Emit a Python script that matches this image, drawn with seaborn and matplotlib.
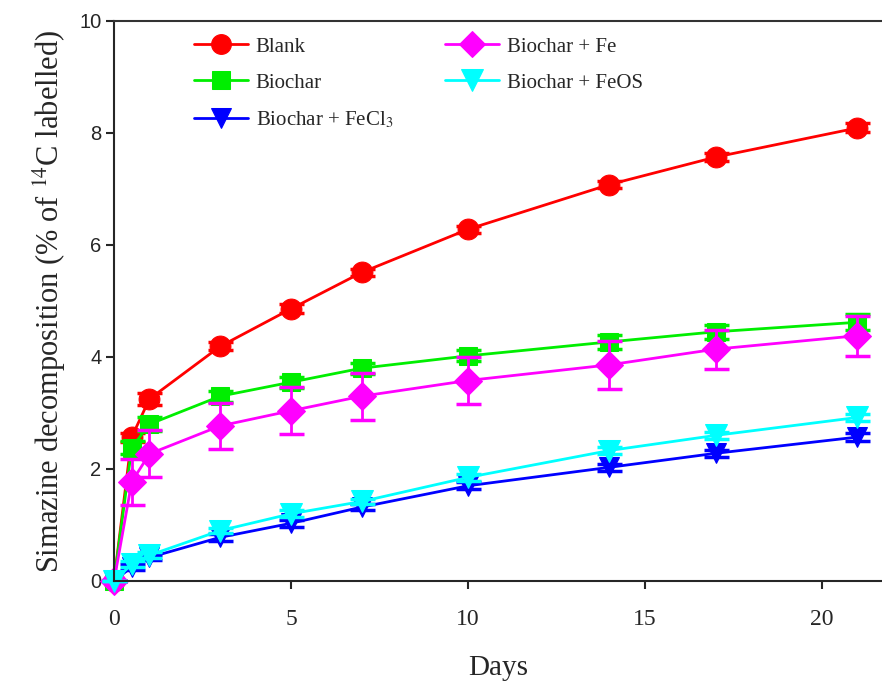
import numpy as np
import pandas as pd
import matplotlib
matplotlib.use("Agg")
import matplotlib.pyplot as plt
import seaborn as sns

days = [0, 0.5, 1, 3, 5, 7, 10, 14, 17, 21]

blank = [0, 2.57, 3.25, 4.19, 4.86, 5.51, 6.28, 7.08, 7.57, 8.09]
blank_sd = [0, 0.08, 0.1, 0.07, 0.08, 0.06, 0.06, 0.06, 0.07, 0.08]

biochar = [0, 2.38, 2.8, 3.3, 3.55, 3.8, 4.02, 4.27, 4.45, 4.62]
biochar_sd = [0, 0.12, 0.12, 0.1, 0.1, 0.1, 0.1, 0.12, 0.12, 0.14]

fecl3 = [0, 0.25, 0.42, 0.78, 1.03, 1.32, 1.7, 2.03, 2.28, 2.57]
fecl3_sd = [0, 0.05, 0.05, 0.06, 0.06, 0.05, 0.06, 0.06, 0.06, 0.07]

fe = [0, 1.77, 2.27, 2.77, 3.04, 3.3, 3.58, 3.86, 4.14, 4.38]
fe_sd = [0, 0.41, 0.42, 0.41, 0.42, 0.42, 0.42, 0.43, 0.35, 0.36]

feos = [0, 0.3, 0.46, 0.9, 1.2, 1.42, 1.85, 2.33, 2.6, 2.92]
feos_sd = [0, 0.05, 0.05, 0.05, 0.06, 0.05, 0.06, 0.06, 0.06, 0.07]

names = ["Blank", "Biochar", "Biochar + FeCl$_3$", "Biochar + Fe", "Biochar + FeOS"]
means = [blank, biochar, fecl3, fe, feos]
sds = [blank_sd, biochar_sd, fecl3_sd, fe_sd, feos_sd]
colors = ["#ff0000", "#00ee00", "#0000ff", "#ff00ff", "#00ffff"]
markers = ["o", "s", "v", "D", "v"]
msizes = [15, 13, 15, 14, 16]

rows = []
for n, m, s in zip(names, means, sds):
    for d, v, e in zip(days, m, s):
        rows.append({"Days": d, "value": v, "sd": e, "group": n})
df = pd.DataFrame(rows)

sns.set_style("ticks")
plt.rcParams["mathtext.fontset"] = "stix"
serif = "Liberation Serif"

fig = plt.figure(figsize=(8.82, 6.84), dpi=100)
ax = fig.add_axes([0.1293, 0.1506, 0.8707, 0.8187])

for n, c, mk, ms in zip(names, colors, markers, msizes):
    sub = df[df["group"] == n]
    ax.errorbar(sub["Days"], sub["value"], yerr=sub["sd"], fmt="none",
                ecolor=c, elinewidth=2, capsize=9, capthick=2.5, clip_on=False)
    sns.lineplot(data=sub, x="Days", y="value", color=c, marker=mk,
                 markersize=ms, markeredgecolor=c, linewidth=2, label=n,
                 errorbar=None, ax=ax, clip_on=False)

ax.set_xlim(0, 21.7)
ax.set_ylim(0, 10)
ax.set_xticks([0, 5, 10, 15, 20])
ax.set_yticks([0, 2, 4, 6, 8, 10])
ax.spines["right"].set_visible(False)
for sp in ["left", "bottom", "top"]:
    ax.spines[sp].set_linewidth(1.5)
ax.spines["top"].set_color("#333333")
ax.tick_params(axis="both", direction="out", length=6, width=1.5)
ax.tick_params(axis="x", pad=14)
ax.tick_params(axis="y", pad=3)
for t in ax.get_xticklabels():
    t.set_fontfamily(serif)
    t.set_fontsize(17)
for t in ax.get_yticklabels():
    t.set_fontfamily("Liberation Sans")
    t.set_fontsize(14.5)

ax.set_xlabel("Days", fontsize=21, fontfamily=serif, labelpad=18)
ax.set_ylabel("Simazine decomposition (% of $^{14}$C labelled)", fontsize=22,
              fontfamily=serif, labelpad=8)

leg = ax.legend(ncol=2, loc="upper left", bbox_to_anchor=(0.08, 1.005),
                frameon=False, prop={"family": serif, "size": 15},
                handlelength=2.6, handletextpad=0.35, columnspacing=2.5,
                labelspacing=0.8, markerscale=0.95)

fig.savefig("out.png", dpi=100)
